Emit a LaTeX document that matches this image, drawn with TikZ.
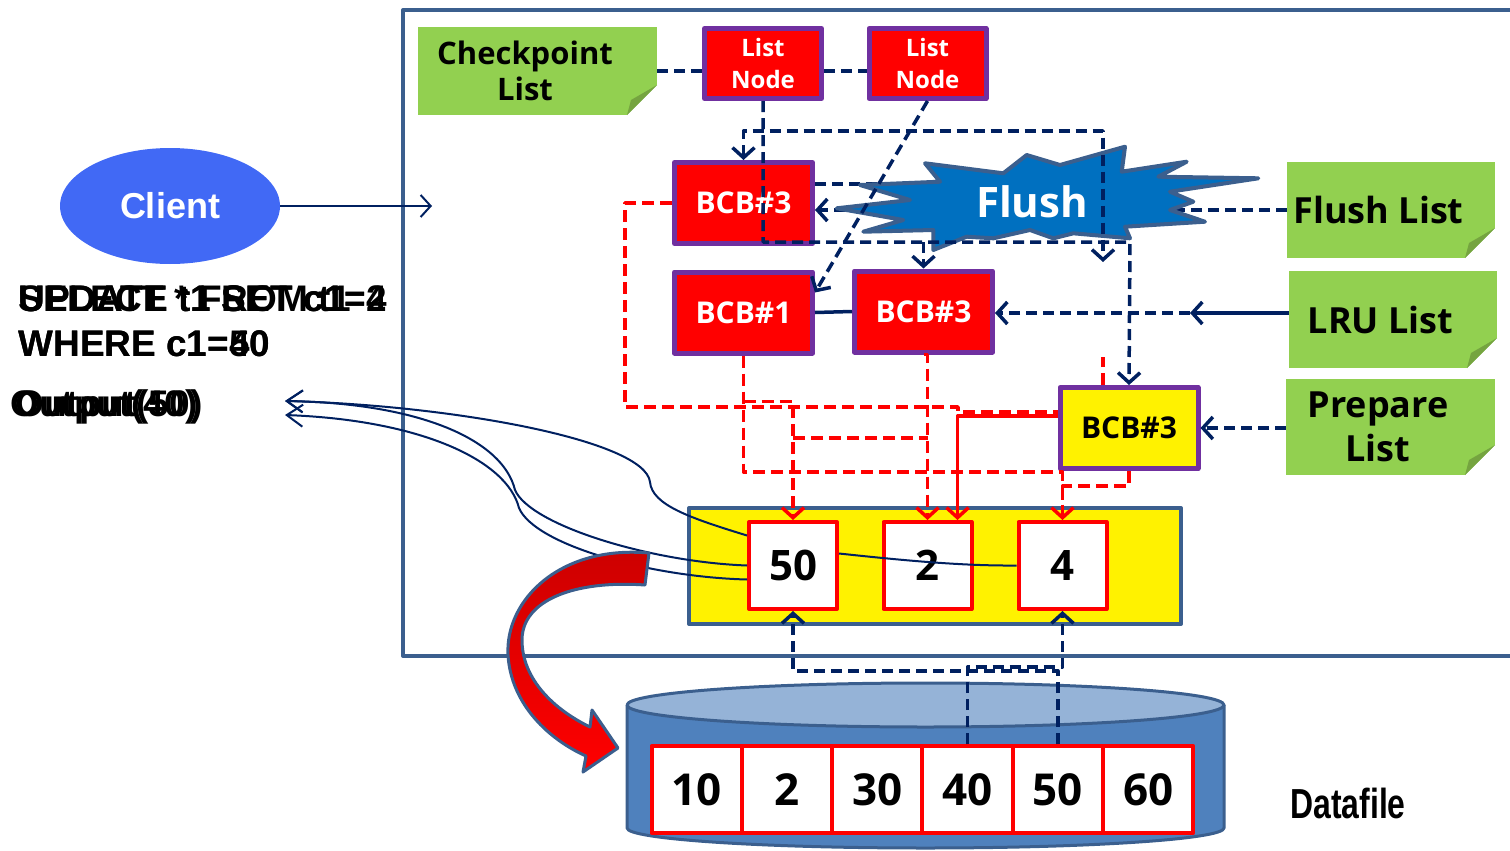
\documentclass[tikz,border=0pt]{standalone}
\usepackage{fontspec}
\setmainfont{Open Sans}
\newfontfamily\arialfont{Liberation Sans}
\newfontfamily\narrowfont[FakeStretch=0.76]{Liberation Sans}
\usetikzlibrary{arrows.meta,shapes.geometric}
\definecolor{navyc}{HTML}{002060}
\definecolor{purp}{HTML}{7030A0}
\definecolor{notegreen}{HTML}{92D050}
\definecolor{folddark}{HTML}{75A440}
\definecolor{steel}{HTML}{3B5F8E}
\definecolor{cylbody}{HTML}{4F81BD}
\definecolor{cyltop}{HTML}{95B3D7}
\definecolor{clientblue}{HTML}{4169F5}
\definecolor{flushblue}{HTML}{0070C0}
\newcommand{\rsp}{\hspace*{12.5pt}}
\tikzset{
  note/.style={fill=notegreen, inner sep=0pt, align=center, text=black,
    font=\bfseries\fontsize{18}{22}\selectfont,
    path picture={
      \fill[white] (path picture bounding box.south east) -- ++(0,15pt) -- ++(-15pt,-15pt) -- cycle;
      \fill[folddark] (path picture bounding box.south east) ++(0,15pt) -- ++(-13pt,-7.5pt) -- ++(-2pt,-7.5pt) -- cycle;}},
  bcb/.style={draw=purp, line width=2.5pt, fill=red, text=white, inner sep=0pt,
    minimum width=69pt, minimum height=40.5pt, font=\bfseries\fontsize{15}{18}\selectfont},
  lnode/.style={bcb, minimum width=58.5pt, minimum height=35pt, align=center,
    font=\bfseries\fontsize{12}{16}\selectfont},
  cell/.style={draw=red, line width=2pt, fill=white, inner sep=0pt,
    minimum width=44pt, minimum height=43.5pt, font=\bfseries\fontsize{21}{24}\selectfont},
  sql/.style={anchor=base west, inner sep=0pt, font=\arialfont\bfseries\fontsize{18.5}{20}\selectfont},
  navydash/.style={navyc, line width=1.75pt, dash pattern=on 5.5pt off 3pt},
  reddash/.style={red, line width=1.75pt, dash pattern=on 6pt off 3pt},
  curve/.style={navyc, line width=1pt}
}
\begin{document}
\begin{tikzpicture}[x=0.5pt, y=-0.5pt, line join=round,
    >={Straight Barb[length=5pt,width=11pt]}]
  \useasboundingbox (0,0) rectangle (1510,851);
  \clip (0,0) rectangle (1510,851);
  % buffer cache frame
  \draw[steel, line width=2pt] (403,10) rectangle (1540,656);

  % client side
  \node[ellipse, fill=clientblue, minimum width=110pt, minimum height=58pt, text=white,
    font=\arialfont\bfseries\fontsize{18}{20}\selectfont] (client) at (170,206) {Client};
  \coordinate (cliend) at (432,206);
  \draw[curve, ->] (client.east) -- (cliend);
  \node[sql] (qa) at (18,311) {SELECT * FROM t1};
  \node[sql] (qb) at (18,311) {UPDATE t1 SET c1=2};
  \node[sql] (qc) at (18,311) {UPDATE t1 SET c1=4};
  \node[sql] (wa) at (18,356) {WHERE c1=40};
  \node[sql] (wb) at (18,356) {WHERE c1=50};
  \node[sql] (oa) at (10,416) {Output(40)};
  \node[sql] (ob) at (15,416) {Output(50)};

  % lists and buffer headers
  \node[note, minimum width=119.5pt, minimum height=44pt, font=\bfseries\fontsize{15.5}{18}\selectfont]
    (chk) at (537.5,71) {Checkpoint\rsp\\List\rsp};
  \node[lnode] (lnA) at (763,63.5) {List\\Node};
  \node[lnode] (lnB) at (927.5,63.5) {List\\Node};
  \node[bcb] (bcbA) at (743.5,203) {BCB\#3};
  \node[bcb] (bcbB) at (743.5,312.5) {BCB\#1};
  \node[bcb] (bcbC) at (923.5,311.5) {BCB\#3};
  \node[bcb, fill=yellow, text=black] (bcbY) at (1129,428) {BCB\#3};
  \node[note, minimum width=104pt, minimum height=48pt] (flushL) at (1391,210) {Flush List\rsp};
  \node[note, minimum width=104pt, minimum height=48.5pt] (lruL) at (1393,319.5) {LRU List\rsp};
  \node[note, minimum width=104.5pt, minimum height=48pt] (prepL) at (1390.5,427) {Prepare\rsp\\List\rsp};

  % under the flush burst
  \draw[navydash, ->] (flushL.west) -- (bcbA.east |- flushL.west);
  \draw[navydash] ([yshift=9.5pt]bcbA.east) -- ++(85,0);
  \filldraw[fill=flushblue, draw=steel, line width=2pt]
    (836.7,208.3) -- (910,200) -- (860,185) -- (940,181.7) -- (925,163.3) -- (1003.3,173.3)
    -- (1026.7,155) -- (1060,165) -- (1125,146.7) -- (1121.7,171.7) -- (1186.7,161.7)
    -- (1158.3,176.7) -- (1258.3,178.3) -- (1170,191.7) -- (1193.3,201.7) -- (1170,210)
    -- (1205,221.7) -- (1125,226.7) -- (1130,238.3) -- (1073.3,233.3) -- (1053.3,238.3)
    -- (1030,230) -- (993.3,238.3) -- (966.7,236.7) -- (933.3,250) -- (933.3,230)
    -- (863.3,231.7) -- (903.3,220) -- cycle;
  \node[text=white, font=\bfseries\fontsize{21}{24}\selectfont] (flush) at (1032,202) {Flush};

  % list pointers
  \draw[navydash] (chk.east) -- (lnA.west |- chk.east);
  \draw[navydash] (lnA.east |- chk.east) -- (lnB.west |- chk.east);
  \coordinate (nxt) at (1130,242);
  \draw[navydash, ->] (lnA.south) |- (nxt) -- (bcbY.north);
  \draw[navydash, ->] (bcbC.north |- nxt) -- (bcbC.north);
  \coordinate (flTop) at (1103,131);
  \coordinate (flEnd) at (1103,262);
  \draw[navydash, <->] (bcbA.north) |- (flTop) -- (flEnd);
  \draw[navydash, ->] (lnB.south) -- ([yshift=10pt]bcbB.east);
  \draw[navyc, line width=1.75pt] (bcbB.east) -- (bcbC.west);
  \coordinate (lruMid) at (1190,313);
  \draw[navyc, line width=1.75pt, ->] (lruL.west |- lruMid) -- (lruMid);
  \draw[navydash, ->] (lruMid) -- (bcbC.east |- lruMid);
  \draw[navydash, ->] (prepL.west |- bcbY.east) -- (bcbY.east);

  % buffer cache
  \node[draw=steel, line width=2pt, fill=yellow, minimum width=246pt, minimum height=58pt,
    inner sep=0pt] (buf) at (935,566) {};
  \node[cell] (c50) at (793,565.5) {50};
  \node[cell] (c2) at (927.5,565.5) {2};
  \node[cell] (c4) at (1062.5,565.5) {4};

  % red links to the buffers
  \draw[reddash] (bcbA.west) -| (625,407) -| (958,412) -- ([yshift=8pt]bcbY.west);
  \draw[red, line width=1.75pt, ->] ([yshift=6pt]bcbY.west) -| ([xshift=15pt]c2.north);
  \draw[reddash, ->] (bcbB.south) |- ([yshift=24pt]c4.north) -- (c4.north);
  \draw[reddash] (bcbY.south) -- ++(0,15) -| ([yshift=10pt]c4.north);
  \draw[reddash, ->] ([yshift=-23pt]bcbB.south) -| (c50.north);
  \draw[reddash, ->] (bcbC.south) -- (bcbC.south -| c2.north) -- (c2.north);
  \draw[reddash] (c50.north |- 0,438) -- (c2.north |- 0,438);
  \draw[reddash] ([xshift=-13pt]bcbY.north) -- ++(0,-28);

  % output curves
  \coordinate (outA) at (285,401);
  \coordinate (outB) at (285,415);
  \draw[curve] ([yshift=6pt]c50.east) .. controls (900,560) and (960,566) .. (c4.west);
  \draw[curve, -{Straight Barb[length=8pt,width=11pt]}] ([yshift=15pt]c50.west)
    .. controls (690,518) and (652,505) .. (650,482) .. controls (645,440) and (450,405) .. (outA);
  \draw[curve, -{Straight Barb[length=8pt,width=11pt]}] (c50.west)
    .. controls (650,562) and (530,525) .. (515,490) .. controls (503,440) and (420,403) .. (outA);
  \draw[curve, -{Straight Barb[length=8pt,width=11pt]}] ([yshift=-7pt]c50.west)
    .. controls (650,577) and (535,545) .. (519,508) .. controls (507,460) and (420,420) .. (outB);

  % datafile
  \fill[cylbody] (627,705) -- (627,828) arc[start angle=180, end angle=360, x radius=149.25pt, y radius=10pt]
    -- (1224,705) arc[start angle=0, end angle=180, x radius=149.25pt, y radius=11pt] -- cycle;
  \draw[steel, line width=1.5pt] (627,705) -- (627,828) arc[start angle=180, end angle=360, x radius=149.25pt, y radius=10pt]
    -- (1224,705);
  \filldraw[fill=cyltop, draw=steel, line width=1.5pt] (925.5,705) ellipse [x radius=149.25pt, y radius=11pt];
  \foreach \v [count=\i] in {10,2,30,40,50,60}
    \node[cell, minimum width=45.15pt, font=\bfseries\fontsize{22}{24}\selectfont]
      (d\v) at (696.65+90.3*\i-90.3,789.5) {\v};
  \node[anchor=base west, inner sep=0pt, font=\narrowfont\bfseries\fontsize{21}{24}\selectfont]
    (dfl) at (1290,818) {Datafile};
  \draw[navydash, ->] (d40.north) |- ([yshift=-28pt]c4.south) -- (c4.south);
  \draw[navydash, ->] (d50.north) |- ([yshift=-30pt]c50.south) -- (c50.south);

  % read arrow
  \path[draw=steel, line width=1.5pt, top color=red!80!black, bottom color=red]
    (649,553) .. controls (560,545) and (505,600) .. (508,655) .. controls (511,705) and (550,740) .. (586,756)
    -- (583,772) -- (618,748) -- (592,710) -- (590,727)
    .. controls (555,710) and (522,680) .. (522,640) .. controls (522,600) and (575,580) .. (645,585) -- cycle;
\end{tikzpicture}
\end{document}
